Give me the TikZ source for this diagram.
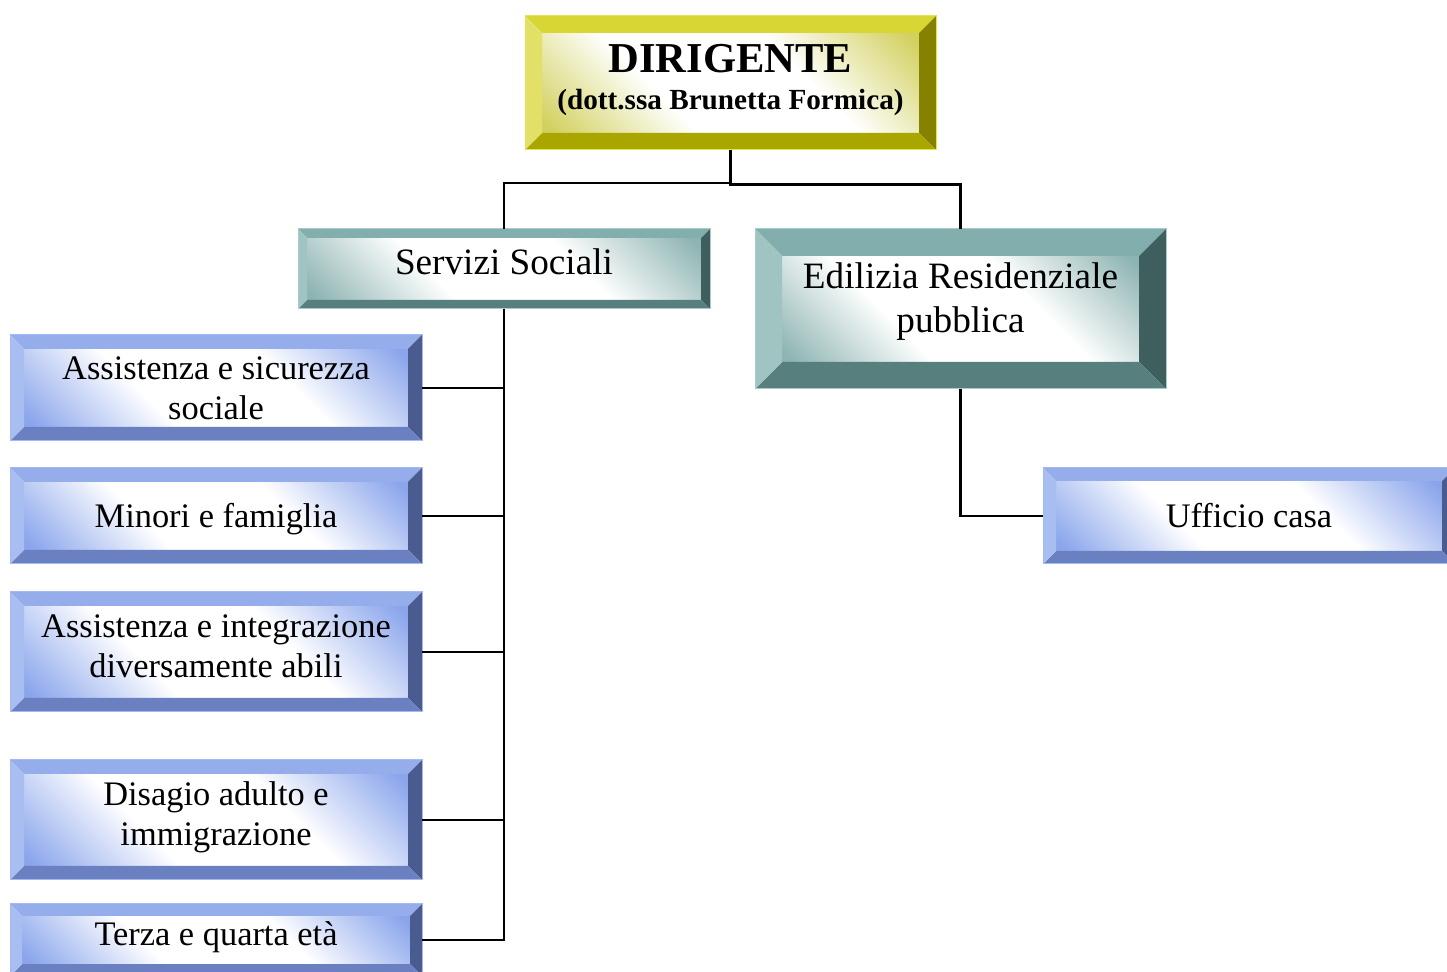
\documentclass[tikz,border=0pt]{standalone}
\usepackage{fontspec}
\setmainfont{Liberation Serif}
\usetikzlibrary{calc}
\pgfdeclarelayer{background}
\pgfsetlayers{background,main}

% palettes: T top bevel, L left, R right, B bottom, C inner corner tint, E edge
\definecolor{yelT}{HTML}{D8D634}
\definecolor{yelL}{HTML}{E2E066}
\definecolor{yelR}{HTML}{848200}
\definecolor{yelB}{HTML}{A9A600}
\definecolor{yelC}{HTML}{D2D05E}
\definecolor{yelE}{HTML}{E6E450}
\definecolor{tealT}{HTML}{82AFAD}
\definecolor{tealL}{HTML}{A0C4C2}
\definecolor{tealR}{HTML}{3F5F5F}
\definecolor{tealB}{HTML}{567F7D}
\definecolor{tealC}{HTML}{8DB4B2}
\definecolor{tealE}{HTML}{A9CBC9}
\definecolor{bluT}{HTML}{95ADEB}
\definecolor{bluL}{HTML}{A9BEF0}
\definecolor{bluR}{HTML}{4A5C8F}
\definecolor{bluB}{HTML}{6A80C0}
\definecolor{bluC}{HTML}{8AA5EC}
\definecolor{bluE}{HTML}{A3B9F0}

% inner face: tinted corners, white diagonal band
\pgfdeclareverticalshading{yelface}{100bp}{color(0bp)=(yelC); color(16bp)=(yelC); color(38bp)=(white); color(62bp)=(white); color(84bp)=(yelC); color(100bp)=(yelC)}
\pgfdeclareverticalshading{tealface}{100bp}{color(0bp)=(tealC); color(16bp)=(tealC); color(38bp)=(white); color(62bp)=(white); color(84bp)=(tealC); color(100bp)=(tealC)}
\pgfdeclareverticalshading{bluface}{100bp}{color(0bp)=(bluC); color(16bp)=(bluC); color(38bp)=(white); color(62bp)=(white); color(84bp)=(bluC); color(100bp)=(bluC)}

\tikzset{
  boxshape/.style={rectangle, inner sep=0pt, outer sep=0pt},
  conn/.style={draw=black, line width=1.1pt},
  lblue/.style={anchor=base, inner sep=0pt, font=\fontsize{17.2}{19.5}\selectfont},
  lteal/.style={anchor=base, inner sep=0pt, font=\fontsize{18.6}{22}\selectfont},
}

% bevelled frame behind a named rectangle node: #1 node, #2 bevel depth, #3 palette
\newcommand\bevelframe[3]{%
  \begin{pgfonlayer}{background}
    \coordinate (#1-a) at ($(#1.north west)+(#2,#2)$);
    \coordinate (#1-b) at ($(#1.north east)+(-#2,#2)$);
    \coordinate (#1-c) at ($(#1.south east)+(-#2,-#2)$);
    \coordinate (#1-d) at ($(#1.south west)+(#2,-#2)$);
    \shade[shading=#3face, shading angle=-45] (#1-a) rectangle (#1-c);
    \fill[#3T] (#1.north west) -- (#1.north east) -- (#1-b) -- (#1-a) -- cycle;
    \fill[#3R] (#1.north east) -- (#1.south east) -- (#1-c) -- (#1-b) -- cycle;
    \fill[#3B] (#1.south east) -- (#1.south west) -- (#1-d) -- (#1-c) -- cycle;
    \fill[#3L] (#1.south west) -- (#1.north west) -- (#1-a) -- (#1-d) -- cycle;
    \draw[#3E, line width=0.5pt] (#1.north west) rectangle (#1.south east);
  \end{pgfonlayer}}

\begin{document}
\begin{tikzpicture}[x=0.5pt, y=-0.5pt]
  \path[use as bounding box, clip] (0,0) rectangle (1447,972);

  % boxes
  \node[boxshape, minimum width=205.5pt, minimum height=67pt] (dir) at (730.5,83) {};
  \node[boxshape, minimum width=206pt, minimum height=40pt] (ss) at (504,269) {};
  \node[boxshape, minimum width=205.5pt, minimum height=80pt] (ed) at (960.5,309) {};
  \node[boxshape, minimum width=206pt, minimum height=53pt] (b1) at (216,388) {};
  \node[boxshape, minimum width=206pt, minimum height=48pt] (b2) at (216,516) {};
  \node[boxshape, minimum width=206pt, minimum height=60pt] (b3) at (216,652) {};
  \node[boxshape, minimum width=206pt, minimum height=60pt] (b4) at (216,820) {};
  \node[boxshape, minimum width=206pt, minimum height=36pt] (b5) at (216,940) {};
  \node[boxshape, minimum width=206pt, minimum height=48pt] (uc) at (1249,516) {};

  \bevelframe{dir}{17}{yel}
  \bevelframe{ss}{9}{teal}
  \bevelframe{ed}{27}{teal}
  \bevelframe{b1}{14}{blu}
  \bevelframe{b2}{14}{blu}
  \bevelframe{b3}{14}{blu}
  \bevelframe{b4}{14}{blu}
  \bevelframe{b5}{12}{blu}
  \bevelframe{uc}{13}{blu}

  % texts
  \node[anchor=base, inner sep=0pt, font=\fontsize{21.3}{24}\selectfont\bfseries] (dir-l1) at (730.5,73) {DIRIGENTE};
  \node[anchor=base, inner sep=0pt, font=\fontsize{14.6}{17}\selectfont\bfseries] (dir-l2) at (730.5,110) {(dott.ssa Brunetta Formica)};
  \node[lteal] (ss-l1) at (504,275) {Servizi Sociali};
  \node[lteal] (ed-l1) at (960.5,289) {Edilizia Residenziale};
  \node[lteal] (ed-l2) at (960.5,333) {pubblica};
  \node[lblue] (b1-l1) at (216,380) {Assistenza e sicurezza};
  \node[lblue] (b1-l2) at (216,420) {sociale};
  \node[lblue] (b2-l1) at (216,528) {Minori e famiglia};
  \node[lblue] (b3-l1) at (216,638) {Assistenza e integrazione};
  \node[lblue] (b3-l2) at (216,678) {diversamente abili};
  \node[lblue] (b4-l1) at (216,806) {Disagio adulto e};
  \node[lblue] (b4-l2) at (216,846) {immigrazione};
  \node[lblue] (b5-l1) at (216,945) {Terza e quarta età};
  \node[lblue] (uc-l1) at (1249,528) {Ufficio casa};

  % connectors
  \coordinate (j1) at (730.5,183);
  \coordinate (j2) at (730.5,184.5);
  \draw[conn] (dir.south) -- (j1) -| (ss.north);
  \draw[conn] (dir.south) -- (j2) -| (ed.north);
  \draw[conn] (ss.south) |- (b5.east);
  \draw[conn] (b1.east) -- (b1.east -| ss.south);
  \draw[conn] (b2.east) -- (b2.east -| ss.south);
  \draw[conn] (b3.east) -- (b3.east -| ss.south);
  \draw[conn] (b4.east) -- (b4.east -| ss.south);
  \draw[conn] (ed.south) |- (uc.west);
\end{tikzpicture}
\end{document}
